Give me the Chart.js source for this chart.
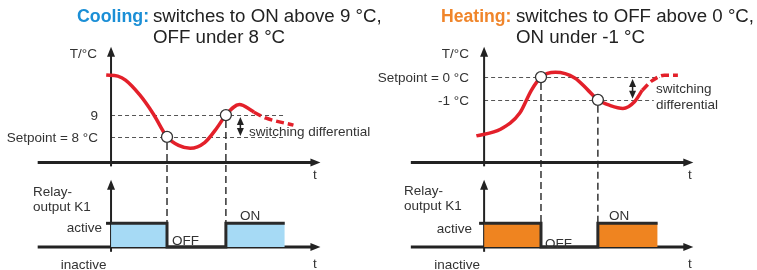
<!DOCTYPE html>
<html>
<head>
<meta charset="utf-8">
<script src="https://cdn.jsdelivr.net/npm/chart.js@4.4.1/dist/chart.umd.min.js"></script>
<style>
  body { margin: 0; background: #fff; }
  #wrap { position: relative; width: 757px; height: 270px; overflow: hidden; }
  canvas { position: absolute; top: 0; }
</style>
</head>
<body>
<div id="wrap">
  <canvas id="cool" width="390" height="270" style="left:0"></canvas>
  <canvas id="heat" width="379" height="270" style="left:378px"></canvas>
</div>
<script>
// time is in arbitrary units, 0 = the vertical (temperature) axis

// --- Cooling ---
const coolTime = [-0.5, 0.7, 1.5, 3.0, 4.4, 5.8, 7.0, 8.2, 9.7, 11.0, 11.9, 13.3, 14.4, 14.8];
const coolTemp = [10.83, 10.78, 10.6, 9.91, 9.04, 8.0, 7.61, 7.48, 7.74, 8.43, 9.0, 9.48, 9.26, 9.13];
const coolTailTime = [14.8, 16.0, 18.9];
const coolTailTemp = [9.13, 8.87, 8.54];
const coolSwitchTime = [5.8, 11.9];
const coolSwitchTemp = [8, 9];
const coolRelayTime = [0, 5.8, 11.9, 18.0];
const coolRelayState = [1, 0, 1, 1];
const coolTicks = [9, 8];
const coolTickLabels = ['9', 'Setpoint = 8 °C'];

// --- Heating ---
const heatTime = [-0.8, 1.7, 3.7, 4.9, 5.9, 7.4, 9.4, 10.7, 11.8, 13.1, 14.4, 15.6, 16.4];
const heatTemp = [-2.58, -2.29, -1.58, -0.58, 0, 0.21, -0.04, -0.54, -1, -1.25, -1.375, -1.08, -0.58];
const heatTailTime = [16.4, 17.4, 18.7, 20.1];
const heatTailTemp = [-0.58, -0.17, 0.08, 0.08];
const heatSwitchTime = [5.9, 11.8];
const heatSwitchTemp = [0, -1];
const heatRelayTime = [0, 5.9, 11.8, 18.0];
const heatRelayState = [1, 0, 1, 1];
const heatTicks = [0, -1];
const heatTickLabels = ['Setpoint = 0 °C', '-1 °C'];

const relayTicks = [1, 0];
const relayTickLabels = ['active', 'inactive'];

const RED = '#e3202a';
const INK = '#222';
const LABEL = '#333';
const FONT = '"Liberation Sans", Arial, sans-serif';

const panels = [
  {
    id: 'cool', accent: '#1b8fd6', fill: '#a6daf5',
    time: coolTime, temp: coolTemp, tailTime: coolTailTime, tailTemp: coolTailTemp,
    switchTime: coolSwitchTime, switchTemp: coolSwitchTemp,
    relayTime: coolRelayTime, relayState: coolRelayState,
    ticks: coolTicks, tickLabels: coolTickLabels, tickRight: 98,
    relayLabelRight: [102, 106.5], relayLabelBase: [232, 269],
    xRange: [-10.8, 28.2], tRange: [2.217, 13.957], rRange: [-0.68, 10.12],
    axisFrom: -7.6, axisTo: 21.7,
    tempAxisAt: 6.826, tempAxisTop: 12.13, tempAxisBottom: 6.65,
    guideEnd: [17.9, 17.9], diffAt: 13.4,
    title: ['Cooling:', 'switches to ON above 9 °C,', 'OFF under 8 °C'], titleX: [77, 153], boldSize: 17.8,
    texts: [
      ['T/°C', 97, 57.5, 'right'],
      ['Relay-', 33, 195.5, 'left'],
      ['output K1', 33, 211, 'left'],
      ['OFF', 172, 245, 'left'],
      ['ON', 240, 220, 'left'],
      ['t', 313, 179, 'left'],
      ['t', 313, 268, 'left'],
      ['switching differential', 249, 136, 'left']
    ]
  },
  {
    id: 'heat', accent: '#f0852a', fill: '#ef8420',
    time: heatTime, temp: heatTemp, tailTime: heatTailTime, tailTemp: heatTailTemp,
    switchTime: heatSwitchTime, switchTemp: heatSwitchTemp,
    relayTime: heatRelayTime, relayState: heatRelayState,
    ticks: heatTicks, tickLabels: heatTickLabels, tickRight: 91,
    relayLabelRight: [94, 102], relayLabelBase: [232.5, 269],
    xRange: [-10.3, 27.6], tRange: [-8.167, 3.083], rRange: [-0.68, 10.12],
    axisFrom: -7.6, axisTo: 21.7,
    tempAxisAt: -3.75, tempAxisTop: 1.333, tempAxisBottom: -3.917,
    guideEnd: [18.2, 17.6], diffAt: 15.4,
    title: ['Heating:', 'switches to OFF above 0 °C,', 'ON under -1 °C'], titleX: [63, 138], boldSize: 17.6,
    texts: [
      ['T/°C', 91, 57.5, 'right'],
      ['Relay-', 26, 194.5, 'left'],
      ['output K1', 26, 210, 'left'],
      ['OFF', 167, 248, 'left'],
      ['ON', 231, 220, 'left'],
      ['t', 310, 179, 'left'],
      ['t', 310, 268, 'left'],
      ['switching', 278, 93, 'left'],
      ['differential', 278, 109, 'left']
    ]
  }
];

function line(ctx, x1, y1, x2, y2) {
  ctx.beginPath();
  ctx.moveTo(x1, y1);
  ctx.lineTo(x2, y2);
  ctx.stroke();
}

function arrowHead(ctx, x, y, dir, len, half) {
  ctx.beginPath();
  ctx.moveTo(x, y);
  if (dir === 'up') { ctx.lineTo(x - half, y + len); ctx.lineTo(x + half, y + len); }
  else if (dir === 'down') { ctx.lineTo(x - half, y - len); ctx.lineTo(x + half, y - len); }
  else { ctx.lineTo(x - len, y - half); ctx.lineTo(x - len, y + half); }
  ctx.closePath();
  ctx.fill();
}

function diagramPlugin(p) {
  return {
    id: 'diagram',
    beforeDatasetsDraw(chart) {
      const { ctx, scales: { x, yT, yR } } = chart;
      const X = v => x.getPixelForValue(v);
      const T = v => yT.getPixelForValue(v);
      const R = v => yR.getPixelForValue(v);
      const x0 = X(0);
      ctx.save();

      // horizontal guides at the switching levels
      ctx.strokeStyle = '#555';
      ctx.lineWidth = 1;
      ctx.setLineDash([4, 3]);
      p.ticks.forEach((v, i) => {
        const y = Math.round(T(v)) + 0.5;
        line(ctx, x0, y, X(p.guideEnd[i]), y);
      });

      // vertical guides from switching points to the relay
      ctx.strokeStyle = '#333';
      ctx.lineWidth = 1.5;
      ctx.setLineDash([7, 4]);
      p.switchTime.forEach((t, i) => {
        line(ctx, X(t), T(p.switchTemp[i]) + 6, X(t), R(0));
      });
      ctx.setLineDash([]);

      // axes
      ctx.strokeStyle = INK;
      ctx.fillStyle = INK;
      const xa = X(p.axisFrom), xb = X(p.axisTo);

      ctx.lineWidth = 3;
      let y = T(p.tempAxisAt);
      line(ctx, xa, y, xb - 8, y);
      arrowHead(ctx, xb, y, 'right', 10, 4);
      y = R(0);
      line(ctx, xa, y, xb - 8, y);
      arrowHead(ctx, xb, y, 'right', 10, 4);

      ctx.lineWidth = 2;
      line(ctx, x0, T(p.tempAxisBottom), x0, T(p.tempAxisTop) + 8);
      arrowHead(ctx, x0, T(p.tempAxisTop), 'up', 10, 4);
      line(ctx, x0, R(-0.2), x0, R(2.84) + 8);
      arrowHead(ctx, x0, R(2.84), 'up', 10, 4);

      // "active" tick
      ctx.lineWidth = 3;
      line(ctx, x0 - 5, R(1), x0, R(1));

      // switching differential double arrow
      const xd = X(p.diffAt);
      const ya = T(p.ticks[0]) + 2, yb = T(p.ticks[1]) - 1;
      ctx.lineWidth = 1.5;
      line(ctx, xd, ya + 6, xd, yb - 6);
      arrowHead(ctx, xd, ya, 'up', 8, 3.5);
      arrowHead(ctx, xd, yb, 'down', 8, 3.5);

      ctx.restore();
    },
    afterDraw(chart) {
      const { ctx, scales: { yT } } = chart;
      ctx.save();

      // title
      ctx.textAlign = 'left';
      ctx.textBaseline = 'alphabetic';
      ctx.font = 'bold ' + p.boldSize + 'px ' + FONT;
      ctx.fillStyle = p.accent;
      ctx.fillText(p.title[0], p.titleX[0], 21.5);
      ctx.font = '18.7px ' + FONT;
      ctx.fillStyle = INK;
      ctx.fillText(p.title[1], p.titleX[1], 21.5);
      ctx.fillText(p.title[2], p.titleX[1], 42.5);

      ctx.font = '13.5px ' + FONT;
      ctx.fillStyle = LABEL;

      // temperature tick labels
      ctx.textAlign = 'right';
      p.ticks.forEach((v, i) => {
        ctx.fillText(p.tickLabels[i], p.tickRight, yT.getPixelForValue(v) + 5);
      });
      // relay tick labels
      relayTicks.forEach((v, i) => {
        ctx.fillText(relayTickLabels[i], p.relayLabelRight[i], p.relayLabelBase[i]);
      });

      p.texts.forEach(([txt, tx, ty, align]) => {
        ctx.textAlign = align;
        ctx.fillText(txt, tx, ty);
      });
      ctx.restore();
    }
  };
}

function buildChart(p) {
  const pts = (xs, ys) => xs.map((v, i) => ({ x: v, y: ys[i] }));
  return new Chart(document.getElementById(p.id), {
    type: 'line',
    data: {
      datasets: [
        {
          data: pts(p.switchTime, p.switchTemp), yAxisID: 'yT', showLine: false,
          pointRadius: 5.5, pointBackgroundColor: '#fff', pointBorderColor: '#333',
          pointBorderWidth: 1.3, order: 0
        },
        {
          data: pts(p.time, p.temp), yAxisID: 'yT', borderColor: RED, borderWidth: 3.5,
          pointRadius: 0, cubicInterpolationMode: 'monotone', fill: false, order: 1
        },
        {
          data: pts(p.tailTime, p.tailTemp), yAxisID: 'yT', borderColor: RED, borderWidth: 3.5,
          borderDash: [8, 4], pointRadius: 0, cubicInterpolationMode: 'monotone', fill: false, order: 1
        },
        {
          data: pts(p.relayTime, p.relayState), yAxisID: 'yR', stepped: true,
          borderColor: '#2a2a2a', borderWidth: 3, borderJoinStyle: 'miter',
          backgroundColor: p.fill, fill: 'origin', pointRadius: 0, order: 2
        }
      ]
    },
    options: {
      responsive: false,
      animation: false,
      devicePixelRatio: 1,
      events: [],
      layout: { padding: 0 },
      plugins: { legend: { display: false }, tooltip: { enabled: false }, title: { display: false } },
      scales: {
        x: { type: 'linear', min: p.xRange[0], max: p.xRange[1], display: false },
        yT: { type: 'linear', position: 'left', min: p.tRange[0], max: p.tRange[1], display: false },
        yR: { type: 'linear', position: 'left', min: p.rRange[0], max: p.rRange[1], display: false }
      }
    },
    plugins: [diagramPlugin(p)]
  });
}

panels.forEach(buildChart);
</script>
</body>
</html>
